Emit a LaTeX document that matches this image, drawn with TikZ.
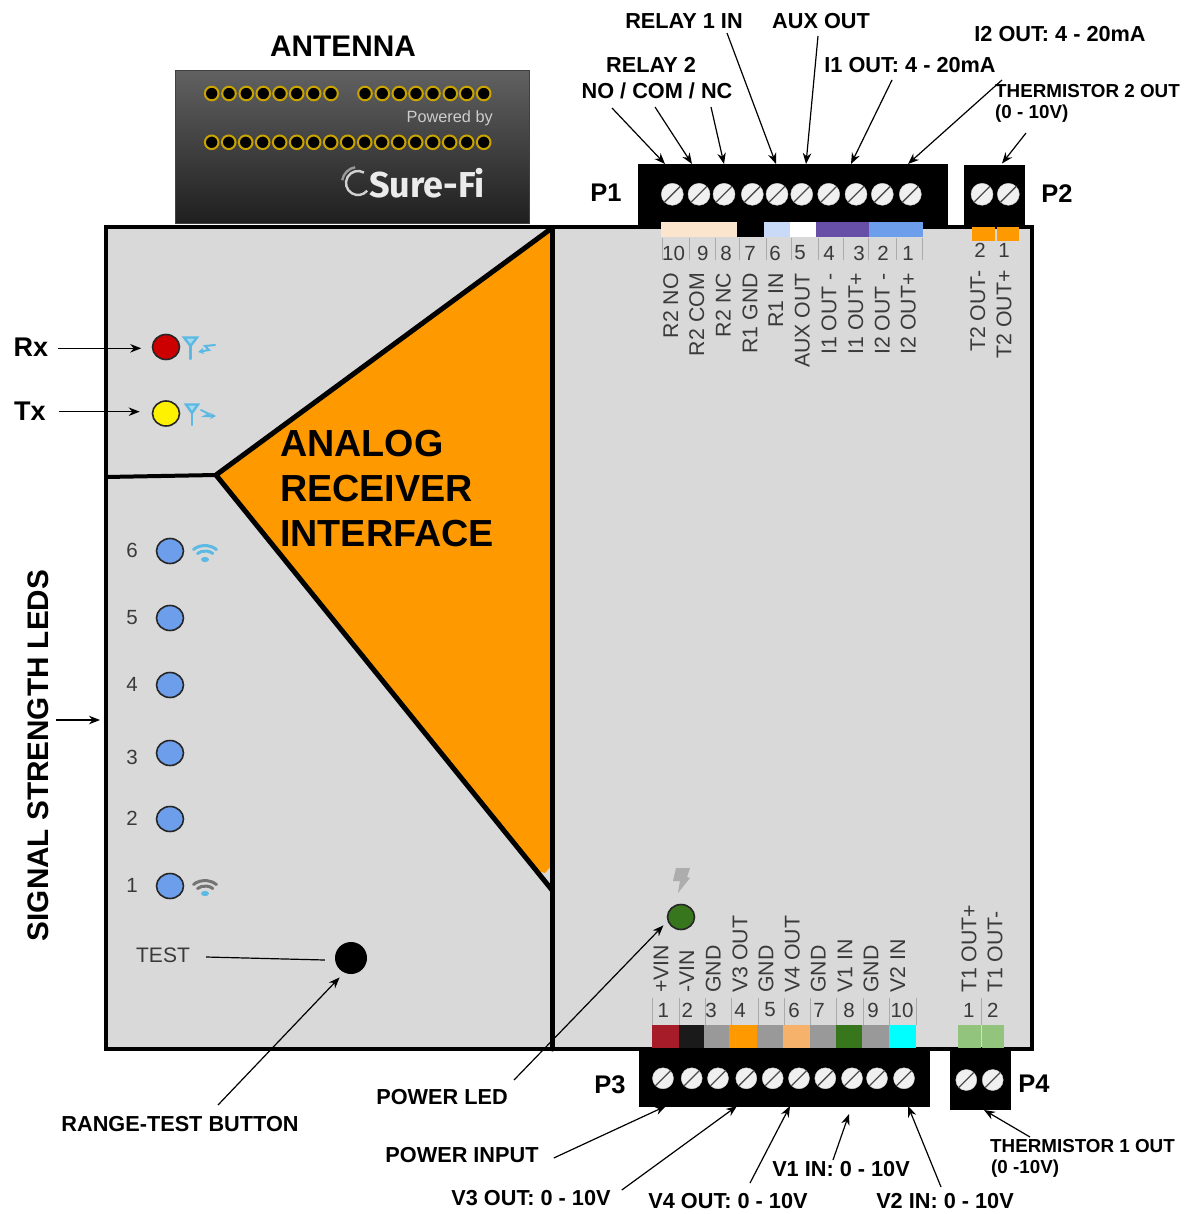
\documentclass[tikz,border=0pt]{standalone}
\usepackage{fontspec}
\setmainfont{Liberation Sans}
\newfontfamily\logofont{Fira Sans}
\usetikzlibrary{arrows.meta,shapes.geometric,shadings}
\newcommand{\fsz}[1]{\fontsize{#1pt}{#1pt}\selectfont}
\definecolor{bodygrey}{HTML}{D9D9D9}
\definecolor{orangeA}{HTML}{FF9900}
\definecolor{ledblue}{HTML}{6D9EEB}
\definecolor{iconblue}{HTML}{5CB9E4}
\definecolor{txtgrey}{HTML}{3A3A3A}
\definecolor{tickgrey}{HTML}{ABABAB}
\definecolor{midgrey}{HTML}{999999}
\definecolor{ledgreen}{HTML}{38761D}
\definecolor{peach}{HTML}{FCE5CD}
\definecolor{paleblue}{HTML}{C9DAF8}
\definecolor{purpleA}{HTML}{674EA7}
\definecolor{ledred}{HTML}{CC0000}
\definecolor{pingold}{HTML}{C9A400}
\tikzset{
  lbl/.style={inner sep=0pt,font=\bfseries\fsz{21.7},text=black},
  biglbl/.style={inner sep=0pt,font=\bfseries\fsz{25.5},text=black},
  hdr/.style={inner sep=0pt,font=\bfseries\fsz{29.8},text=black},
  thin lbl/.style={inner sep=0pt,font=\bfseries\fsz{18.8},text=black},
  plain lbl/.style={inner sep=0pt,font=\fsz{21},text=txtgrey},
  num/.style={inner sep=0pt,font=\fsz{20.5},text=txtgrey},
  vtop/.style={inner sep=0pt,font=\fsz{21.3},text=txtgrey,rotate=90,anchor=east},
  vbot/.style={inner sep=0pt,font=\fsz{21.3},text=txtgrey,rotate=90,anchor=west},
  arr/.style={draw=black,line width=1.2pt,-{Stealth[length=11pt,width=8.5pt]}},
  plainline/.style={draw=black,line width=1.2pt},
  block/.style={fill=black,draw=black,line width=0.5pt,inner sep=0pt,outer sep=0pt,anchor=north west},
  led/.style={ellipse,draw=black!85,line width=1.6pt,inner sep=0pt,minimum width=27pt,minimum height=25pt},
  tick/.style={draw=tickgrey,line width=1pt},
  heavy/.style={draw=black,line width=5pt,line cap=round,line join=round},
  wave/.style={line width=3pt,line cap=round},
  icon/.style={draw=iconblue,line width=2.4pt,line cap=round},
}
\newcommand{\screw}[3]{%
  \fill[black!6,draw=black!20,line width=0.4pt] (#1,#2) circle[radius=#3];
  \draw[black!70,line width=1.3pt] ({#1-0.72*#3},{#2+0.72*#3}) -- ({#1+0.72*#3},{#2-0.72*#3});}
\newcommand{\pin}[2]{\fill[black,draw=pingold,line width=2pt] (#1,#2) circle[radius=6.8];}
\begin{document}
\begin{tikzpicture}[x=1pt,y=-1pt]
\useasboundingbox (0,0) rectangle (1185,1214);
\fill[white] (0,0) rectangle (1185,1214);

% antenna
\node[hdr] (antennaLabel) at (343,46) {ANTENNA};
\shade[top color=black!62,bottom color=black!88,draw=black!75,line width=1pt] (175,71) rectangle (529,224);
\foreach \x in {211.7,229,246.3,263.3,280,296.7,313.7,331,365,382.3,399.3,416,433,450.3,466.7,483.7} {\pin{\x}{93.5}}
\foreach \i in {0,...,16} {\pin{211.7+17*\i}{142.3}}
\node[inner sep=0pt,anchor=east,font=\fsz{16.3},text=black!20] (poweredBy) at (493,118) {Powered by};
\node[inner sep=0pt,anchor=east,font=\logofont\bfseries\fsz{36},text=black!8] (sureFi) at (485,183) {Sure-Fi};
\draw[black!18,line width=2.4pt] (364,172.6) arc[start angle=-60,delta angle=-260,radius=12];
\draw[black!40,line width=2.4pt] (342.2,180.2) arc[start angle=-170,end angle=-100,radius=16];

% body
\node[draw=black,fill=bodygrey,line width=4pt,minimum width=926pt,minimum height=822pt,inner sep=0pt,outer sep=0pt,anchor=north west] (body) at (106,227) {};

% orange interface
\fill[orangeA] (216,475) -- (551,228) -- (551,866) -- (545,873) -- (538,871) -- cycle;
\draw[heavy] (552,228) -- (552,1049);
\draw[heavy] (552,228) -- (216,475) -- (552,890);
\draw[heavy,line width=4pt] (216,475) -- (106,477);
\node[inner sep=0pt,anchor=west,font=\bfseries\fsz{37.7},text=black] (a1) at (280,444) {ANALOG};
\node[inner sep=0pt,anchor=west,font=\bfseries\fsz{37.7},text=black] (a2) at (280,489) {RECEIVER};
\node[inner sep=0pt,anchor=west,font=\bfseries\fsz{37.7},text=black] (a3) at (280,534) {INTERFACE};

% P1 / P2 blocks
\node[block,minimum width=309pt,minimum height=62pt] (p1) at (638,164) {};
\node[block,minimum width=60pt,minimum height=60.5pt] (p2) at (964,165.5) {};
\foreach \x in {672.3,699,724,752.3,777,801.7,828.7,856,882.3,910.3} {\screw{\x}{194.3}{11}}
\foreach \x in {982,1008.3} {\screw{\x}{194.3}{11}}
\node[biglbl] (p1Label) at (606,193) {P1};
\node[biglbl] (p2Label) at (1057,194) {P2};
\fill[peach] (661,222) rectangle (737,237);
\fill[black] (737,222) rectangle (763.5,237);
\fill[paleblue] (763.5,222) rectangle (790,237);
\fill[white] (790,222) rectangle (815.5,237);
\fill[purpleA] (815.5,222) rectangle (868.5,237);
\fill[ledblue] (868.5,222) rectangle (923,237);
\fill[orangeA] (971.7,227) rectangle (995.3,241);
\fill[orangeA] (996.7,227) rectangle (1018.7,241);
\foreach \x in {662,689,715,739,766,791,818,843,868,896,922} {\draw[tick] (\x,238) -- (\x,260);}
\foreach[count=\i] \x/\t in {673.6/10,702.7/9,726/8,750/7,775/6,800/5,829/4,859/3,883/2,908/1} {\node[num] (tn\i) at (\x,253) {\t};}
\node[num] (tn11) at (980,250) {2};
\node[num] (tn12) at (1004,250) {1};
\foreach[count=\i] \x/\t in {670.7/R2 NO,696.7/R2 COM,723.3/R2 NC,750/R1 GND,775.7/R1 IN,802.3/AUX OUT,829/I1 OUT -,855.7/I1 OUT+,882.3/I2 OUT -,908.3/I2 OUT+} {\node[vtop] (tv\i) at (\x,273) {\t};}
\node[vtop] (tv11) at (977.7,270) {T2 OUT-};
\node[vtop] (tv12) at (1004,270) {T2 OUT+};

% P3 / P4 blocks
\node[block,minimum width=290pt,minimum height=58pt] (p3) at (639,1048) {};
\node[block,minimum width=60pt,minimum height=61pt] (p4) at (950,1048) {};
\foreach \x in {663,691.7,718,746.3,772.7,799,825.3,852,877,904} {\screw{\x}{1078.3}{10.5}}
\foreach \x in {966.3,992.7} {\screw{\x}{1080}{10.5}}
\node[biglbl] (p3Label) at (610,1085) {P3};
\node[biglbl] (p4Label) at (1034,1084) {P4};
\foreach \a/\b/\c in {651.7/678.7/A61C28,678.7/704/1A1A1A,704/729.3/999999,729.3/757.3/FF9900,757.3/783/999999,783/810/F6B26B,810/836/999999,836/862.3/38761D,862.3/888.7/999999,888.7/916.3/00FFFF,957.7/980.5/93C47D,981.5/1004/93C47D} {\definecolor{cc}{HTML}{\c}\fill[cc] (\a,1025) rectangle (\b,1048);}
\foreach \x in {652,679,705,731.5,758,784,810,836.7,863,889,916,981} {\draw[tick] (\x,998) -- (\x,1025);}
\foreach[count=\i] \x/\t in {663.3/1,687.3/2,711/3,740/4,770/5,794/6,819/7,849/8,873/9,902/10,968.7/1,992.7/2} {\node[num] (bn\i) at (\x,1010) {\t};}
\foreach[count=\i] \x/\t in {661/+VIN,686.7/-VIN,713.3/GND,740/V3 OUT,766/GND,792.3/V4 OUT,818.3/GND,845/V1 IN,871/GND,897.7/V2 IN,969/T1 OUT+,995/T1 OUT-} {\node[vbot] (bv\i) at (\x,993) {\t};}

% LEDs
\node[led,fill=ledred] (rx) at (166,347) {};
\node[led,fill=yellow] (tx) at (166,413.5) {};
\foreach \y/\n/\m/\ny in {551/6/6/550,618/5/5/618,685/4/4/684,753/3/3/757,819/2/2/818,886/1/1/885} {
  \node[led,fill=ledblue] (sig\n) at (170,\y) {};
  \node[num] (sigNum\n) at (132,\ny) {\m};
}
\node[led,fill=ledgreen] (pwrLed) at (681,917) {};
\node[circle,fill=black,minimum size=32pt,inner sep=0pt] (testBtn) at (351,958) {};
\fill[black!32] (676,868) -- (690,868) -- (687,877) -- (690,878) -- (678,893) -- (680,881) -- (673,881) -- cycle;

% antenna icons
\draw[icon,fill=iconblue!55] (184,337.5) -- (197,337.5) -- (190.5,346) -- cycle;
\draw[icon] (190.5,346) -- (190.5,359);
\draw[icon,line width=2pt,-{Stealth[length=6pt,width=6.5pt]}] (215,345) -- (205,346) -- (209,350) -- (198,352);
\draw[icon,fill=iconblue!55] (186,404.5) -- (198,404.5) -- (192,413) -- cycle;
\draw[icon] (192,413) -- (192,425);
\draw[icon,line width=2pt,-{Stealth[length=6pt,width=6.5pt]}] (201,410) -- (209,414) -- (205,416) -- (216,416);

% wifi icons
\draw[wave,iconblue] (193.5,549.5) arc[start angle=-140,end angle=-40,x radius=15,y radius=11];
\draw[wave,iconblue] (197.5,553.5) arc[start angle=-140,end angle=-40,x radius=10,y radius=7];
\fill[iconblue] (205,559.5) ellipse[x radius=4,y radius=2.6];
\draw[wave,black!55] (193.5,884.5) arc[start angle=-140,end angle=-40,x radius=15,y radius=11];
\draw[wave,black!55] (197.5,888.5) arc[start angle=-140,end angle=-40,x radius=10,y radius=7];
\fill[iconblue] (205,893.5) ellipse[x radius=4,y radius=2.6];

% labels
\node[inner sep=0pt,font=\bfseries\fsz{27},text=black] (rxLabel) at (31,347) {Rx};
\node[inner sep=0pt,font=\bfseries\fsz{27},text=black] (txLabel) at (30,411) {Tx};
\node[inner sep=0pt,font=\bfseries\fsz{29.7},text=black,rotate=90] (ssLabel) at (38,755.5) {SIGNAL STRENGTH LEDS};
\coordinate (ssStart) at (56,720);
\coordinate (ssEnd) at (100,720);
\node[plain lbl] (testLabel) at (163,955) {TEST};
\node[lbl] (rangeLabel) at (180,1124) {RANGE-TEST BUTTON};
\node[lbl] (powerLedLabel) at (442,1097) {POWER LED};
\node[lbl] (powerInLabel) at (462,1155) {POWER INPUT};
\node[lbl] (v3Label) at (531,1198) {V3 OUT: 0 - 10V};
\node[lbl] (v4Label) at (728,1201) {V4 OUT: 0 - 10V};
\node[lbl] (v1Label) at (841,1169) {V1 IN: 0 - 10V};
\node[lbl] (v2Label) at (945,1201) {V2 IN: 0 - 10V};
\node[thin lbl,anchor=west] (t1Label) at (990,1146) {THERMISTOR 1 OUT};
\node[thin lbl,anchor=west] (t1Range) at (991,1169) {(0 -10V)};
\node[lbl] (relay1Label) at (684,21) {RELAY 1 IN};
\node[lbl] (auxLabel) at (821,21) {AUX OUT};
\node[lbl] (relay2Label) at (651,65) {RELAY 2};
\node[lbl] (noLabel) at (657,91) {NO / COM / NC};
\node[lbl] (i1Label) at (910,65) {I1 OUT: 4 - 20mA};
\node[lbl] (i2Label) at (1060,34) {I2 OUT: 4 - 20mA};
\node[thin lbl,anchor=west] (t2Label) at (995,91) {THERMISTOR 2 OUT};
\node[thin lbl,anchor=west] (t2Range) at (995,114) {(0 - 10V)};

% connectors
\draw[arr] ([shift={(10,1.3)}]rxLabel.east) -- ([shift={(-10.5,1.3)}]rx.west);
\draw[arr] ([shift={(13,0.7)}]txLabel.east) -- ([shift={(-12,-1.8)}]tx.west);
\draw[arr] (ssStart) -- (ssEnd);
\draw[plainline] ([shift={(16,2)}]testLabel.east) -- ([shift={(-10,2)}]testBtn.west);
\draw[arr] ([shift={(38,-19)}]rangeLabel.center) -- ([shift={(0,8)}]testBtn.south west);
\draw[arr] ([shift={(72,-17)}]powerLedLabel.center) -- ([shift={(-7.5,-1)}]pwrLed.south west);
\draw[arr] ([shift={(15,3)}]powerInLabel.east) -- ([shift={(27,0)}]p3.south west);
\draw[arr] ([shift={(11,-8)}]v3Label.east) -- ([shift={(98,0)}]p3.south west);
\draw[arr] ([shift={(22,-18)}]v4Label.center) -- ([shift={(151,0)}]p3.south west);
\draw[arr] ([shift={(-8,-9)}]v1Label.center) -- ([shift={(210,8)}]p3.south west);
\draw[arr] ([shift={(-4,-14)}]v2Label.center) -- ([shift={(269,0)}]p3.south west);
\draw[arr] ([shift={(40,-9)}]t1Label.west) -- ([shift={(34,1)}]p4.south west);
\draw[arr] ([shift={(43,12)}]relay1Label.center) -- ([shift={(138,0)}]p1.north west);
\draw[arr] ([shift={(-3,15)}]auxLabel.center) -- ([shift={(168,0)}]p1.north west);
\draw[arr] ([shift={(-45,17)}]noLabel.center) -- ([shift={(27,0)}]p1.north west);
\draw[arr] ([shift={(-2,16)}]noLabel.center) -- ([shift={(54,0)}]p1.north west);
\draw[arr] ([shift={(54,16)}]noLabel.center) -- ([shift={(86,0)}]p1.north west);
\draw[arr] ([shift={(-18,15)}]i1Label.center) -- ([shift={(213,0)}]p1.north west);
\draw[arr] ([shift={(-58,46)}]i2Label.center) -- ([shift={(270,0)}]p1.north west);
\draw[arr] ([shift={(31,19)}]t2Range.west) -- ([shift={(38,-2)}]p2.north west);
\end{tikzpicture}
\end{document}
